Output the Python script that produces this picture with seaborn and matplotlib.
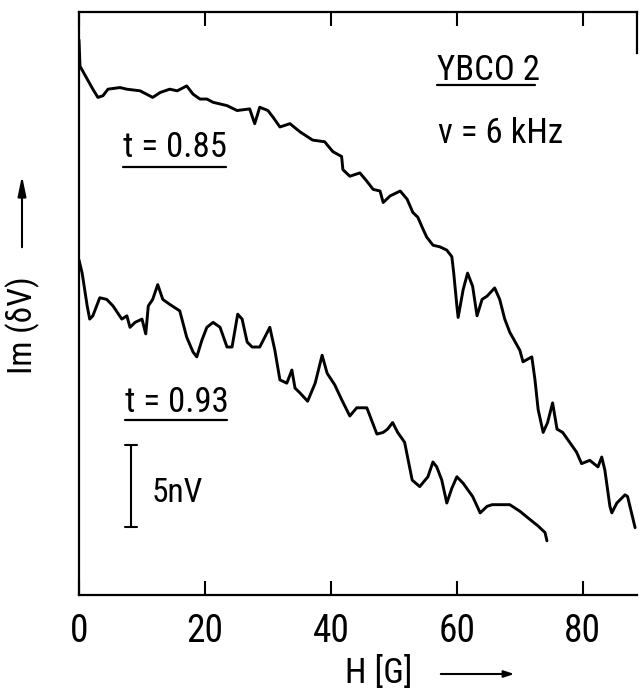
import numpy as np
import pandas as pd
import seaborn as sns
import matplotlib
matplotlib.use("Agg")
import matplotlib.pyplot as plt
from matplotlib.lines import Line2D

# ---- data (H in Gauss, signal in nV, arbitrary offset) ----
h_085 = [0.0, 0.16, 2.2, 3.0, 3.8, 4.6, 6.5, 7.6, 9.7, 11.7, 12.9, 14.4, 15.6, 17.1, 18.1,
         19.2, 20.3, 21.3, 22.4, 23.5, 25.1, 27.1, 27.9, 28.7, 30.0, 30.8, 31.9, 33.5, 35.1,
         37.1, 39.0, 40.3, 41.7, 41.9, 43.0, 44.6, 45.7, 46.7, 47.8, 48.3, 49.4, 51.0, 52.1,
         53.0, 53.8, 54.6, 55.2, 56.2, 57.3, 58.4, 59.2, 59.5, 60.0, 60.2, 61.0, 61.7, 62.5,
         63.2, 64.0, 64.8, 66.0, 66.8, 67.6, 68.4, 70.0, 70.5, 71.9, 72.4, 72.9, 73.7, 74.4,
         75.2, 75.9, 76.8, 77.9, 79.0, 79.8, 81.1, 82.4, 83.0, 83.5, 84.3, 84.6, 85.4, 86.7,
         87.1, 88.3]
v_085 = [33.8, 32.2, 30.8, 30.3, 30.4, 30.8, 30.9, 30.8, 30.7, 30.3, 30.6, 30.8, 30.7, 31.0, 30.5,
         30.2, 30.2, 30.0, 29.9, 29.8, 29.5, 29.6, 28.7, 29.7, 29.5, 29.1, 28.5, 28.7, 28.2,
         27.7, 27.6, 27.0, 26.7, 25.9, 25.5, 25.7, 25.2, 24.7, 24.6, 23.9, 24.3, 24.6, 24.1,
         23.3, 23.0, 22.3, 21.8, 21.3, 21.2, 21.0, 20.6, 19.6, 17.6, 16.9, 18.6, 19.6, 18.8,
         17.0, 18.0, 18.2, 18.7, 18.0, 16.8, 16.0, 14.9, 14.2, 14.5, 13.1, 11.3, 9.9, 10.5,
         11.7, 10.1, 9.9, 9.3, 8.7, 8.0, 8.2, 7.8, 8.4, 7.6, 5.4, 5.0, 5.6, 6.1,
         6.0, 4.1]

h_093 = [0.0, 0.5, 1.3, 1.7, 2.2, 3.3, 4.4, 5.4, 6.8, 7.6, 8.1, 8.9, 10.0, 10.6, 11.0, 11.7,
         12.5, 13.3, 14.4, 16.0, 17.1, 18.1, 18.7, 19.5, 20.3, 21.3, 22.4, 23.5, 24.3, 25.2,
         25.9, 26.7, 27.5, 28.7, 30.3, 31.1, 31.9, 33.0, 33.8, 34.3, 35.1, 36.3, 37.5, 38.6,
         39.4, 40.6, 41.7, 43.0, 44.1, 45.7, 47.3, 48.3, 49.0, 49.8, 50.6, 51.7, 52.9, 54.1,
         55.4, 56.2, 56.8, 57.6, 58.4, 59.2, 60.0, 61.0, 62.5, 63.7, 64.8, 65.6, 66.8, 68.4,
         70.0, 71.6, 72.9, 74.0, 74.3]
v_093 = [20.4, 19.6, 17.6, 16.8, 17.0, 18.1, 18.0, 17.6, 16.8, 17.0, 16.3, 16.6, 16.8, 15.9, 17.6, 18.0,
         18.9, 18.0, 17.7, 17.3, 15.7, 14.8, 14.5, 15.5, 16.3, 16.6, 16.3, 15.1, 15.1, 17.1,
         16.8, 15.4, 15.1, 15.1, 16.3, 14.9, 13.1, 12.9, 13.7, 12.6, 12.3, 11.8, 12.9, 14.6,
         13.5, 12.8, 11.9, 10.9, 11.4, 11.4, 9.8, 9.9, 10.1, 10.5, 9.9, 9.3, 7.0, 6.6,
         7.2, 8.1, 7.8, 7.0, 5.6, 6.5, 7.2, 6.8, 6.0, 5.0, 5.4, 5.5, 5.5, 5.5,
         5.1, 4.6, 4.2, 3.8, 3.3]

series_labels = ["t = 0.85", "t = 0.93"]
x_ticks = [0, 20, 40, 60, 80]
scale_bar_nv = 5

df = pd.concat([
    pd.DataFrame({"H": h_085, "V": v_085, "t": series_labels[0]}),
    pd.DataFrame({"H": h_093, "V": v_093, "t": series_labels[1]}),
])

sns.set_style("white")
plt.rcParams["font.family"] = ["Roboto Condensed", "DejaVu Sans Condensed",
                               "Liberation Sans Narrow", "Roboto", "DejaVu Sans"]
plt.rcParams["font.stretch"] = "condensed"

W, H = 639, 693
fig = plt.figure(figsize=(W / 100, H / 100), dpi=100)

def fx(x):
    return x / W

def fy(y):
    return 1 - y / H

ax = fig.add_axes([fx(79), fy(595), fx(637) - fx(79), fy(12) - fy(595)])

sns.lineplot(data=df, x="H", y="V", hue="t", units="t", estimator=None,
             palette=["black", "black"], linewidth=2.1, sort=False, legend=False, ax=ax)

ax.set_xlim(0, 88.6)
ax.set_ylim(0, 35.5)
ax.set_xticks(x_ticks)
ax.set_xticklabels([str(t) for t in x_ticks])
ax.set_yticks([])
ax.set_xlabel("")
ax.set_ylabel("")
ax.tick_params(axis="x", direction="in", length=10, width=1.5, colors="black",
               top=True, bottom=True, labelsize=27, pad=13)
for s in ["left", "bottom", "top"]:
    ax.spines[s].set_color("black")
    ax.spines[s].set_linewidth(1.6)
ax.spines["right"].set_color("black")
ax.spines["right"].set_linewidth(1.6)
ax.spines["right"].set_bounds(33.0, 35.5)

# scale bar (5 nV)
sb_x = 8.25
sb_y0 = 4.15
ax.plot([sb_x, sb_x], [sb_y0, sb_y0 + scale_bar_nv], color="black", lw=1.5)
ax.plot([sb_x - 1.0, sb_x + 1.0], [sb_y0, sb_y0], color="black", lw=1.5)
ax.plot([sb_x - 1.0, sb_x + 1.0], [sb_y0 + scale_bar_nv] * 2, color="black", lw=1.5)

def label(x, y, s, size, **kw):
    fig.text(fx(x), fy(y), s, fontsize=size, color="black", va="baseline", ha="left", **kw)

def uline(x1, x2, y):
    fig.add_artist(Line2D([fx(x1), fx(x2)], [fy(y), fy(y)], color="black", lw=1.6))

label(123, 157, series_labels[0], 25)
uline(123, 226, 167)
label(125, 412, series_labels[1], 25)
uline(125, 227, 420)
label(437, 80, "YBCO 2", 25)
uline(437, 535, 85)
label(438, 143, "ν = 6 kHz", 25)
label(152, 502, "5nV", 24)

# axis labels with arrows
label(345, 683, "H [G]", 25)
fig.add_artist(matplotlib.patches.FancyArrowPatch((fx(438), fy(674)), (fx(517), fy(674)),
               transform=fig.transFigure, arrowstyle="-|>,head_length=6,head_width=2",
               color="black", lw=1.5, mutation_scale=1))
fig.text(fx(23), fy(325), "Im (δV)", rotation=90, fontsize=24, ha="center", va="center",
         color="black")
fig.add_artist(matplotlib.patches.FancyArrowPatch((fx(22), fy(250)), (fx(22), fy(173)),
               transform=fig.transFigure, arrowstyle="-|>,head_length=12,head_width=2.5",
               color="black", lw=1.5, mutation_scale=1))

fig.savefig("out.png", dpi=100)
